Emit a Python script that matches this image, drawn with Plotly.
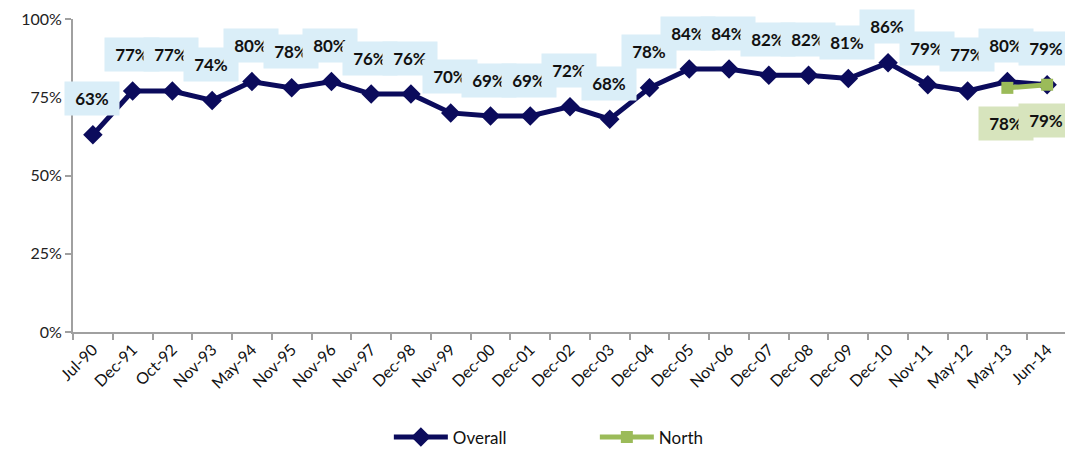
import plotly.graph_objects as go

categories = ["Jul-90", "Dec-91", "Oct-92", "Nov-93", "May-94", "Nov-95", "Nov-96", "Nov-97",
              "Dec-98", "Nov-99", "Dec-00", "Dec-01", "Dec-02", "Dec-03", "Dec-04", "Dec-05",
              "Nov-06", "Dec-07", "Dec-08", "Dec-09", "Dec-10", "Nov-11", "May-12", "May-13", "Jun-14"]
overall = [63, 77, 77, 74, 80, 78, 80, 76, 76, 70, 69, 69, 72, 68, 78, 84, 84, 82, 82, 81, 86, 79, 77, 80, 79]
north_categories = ["May-13", "Jun-14"]
north = [78, 79]
y_ticks = [0, 25, 50, 75, 100]
y_tick_labels = ["0%", "25%", "50%", "75%", "100%"]

NAVY = "#0B0B5C"
GREEN = "#9BBB59"
LABEL_FONT = dict(family="Lato, 'Open Sans', sans-serif", size=17, color="#111111")

fig = go.Figure()
fig.add_trace(go.Scatter(
    x=categories, y=overall, name="Overall", mode="lines+markers",
    line=dict(color=NAVY, width=5), marker=dict(symbol="diamond", size=15, color=NAVY),
))
fig.add_trace(go.Scatter(
    x=north_categories, y=north, name="North", mode="lines+markers",
    line=dict(color=GREEN, width=5), marker=dict(symbol="square", size=12, color=GREEN),
))

annotations = []
for c, v in zip(categories, overall):
    annotations.append(dict(x=c, y=v, xref="x", yref="y", text="<b>%d%%</b>" % v,
                            showarrow=False, yshift=36, xshift=-1, bgcolor="#DAEEF8",
                            width=48, height=27, borderpad=3, font=LABEL_FONT))
for c, v in zip(north_categories, north):
    annotations.append(dict(x=c, y=v, xref="x", yref="y", text="<b>%d%%</b>" % v,
                            showarrow=False, yshift=-36, xshift=-1, bgcolor="#D7E4BD",
                            width=48, height=27, borderpad=3, font=LABEL_FONT))

fig.update_layout(
    width=1065, height=443,
    margin=dict(l=65, r=6, t=11, b=119, autoexpand=False),
    paper_bgcolor="white", plot_bgcolor="white",
    font=dict(family="Lato, 'Open Sans', sans-serif", size=16, color="#222222"),
    showlegend=True,
    legend=dict(orientation="h", x=0.525, xanchor="center", y=-0.337, yanchor="middle",
                font=dict(size=17, color="#111111"), entrywidth=137, itemwidth=54),
    annotations=annotations,
    xaxis=dict(type="category", categoryorder="array", categoryarray=categories,
               range=[-0.5, len(categories) - 0.5], showline=True, linecolor="#A0A0A0", linewidth=2,
               ticks="outside", tickson="boundaries", ticklen=6, tickcolor="#A0A0A0", tickwidth=2,
               tickangle=-45, tickfont=dict(size=16, color="#111111"), showgrid=False,
               automargin=False),
    yaxis=dict(range=[0, 100], tickvals=y_ticks, ticktext=y_tick_labels, showline=True,
               linecolor="#A0A0A0", linewidth=2, ticks="outside", ticklen=6, tickcolor="#A0A0A0",
               tickwidth=2, showgrid=False, zeroline=False, tickfont=dict(size=16, color="#222222"),
               ticklabeloverflow="allow", automargin=False),
)

fig.write_html("out.html")
